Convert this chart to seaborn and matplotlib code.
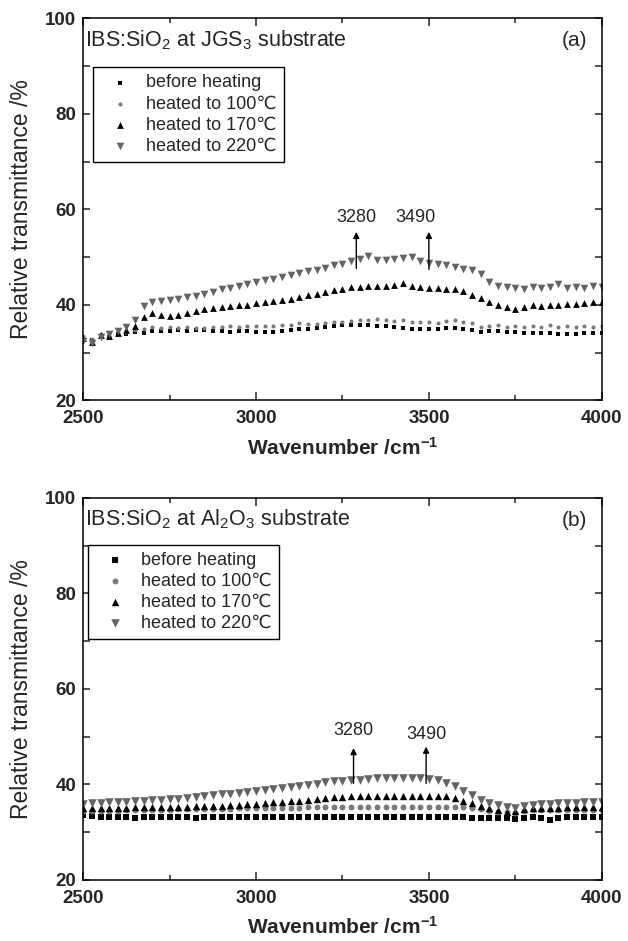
import matplotlib
matplotlib.use('Agg')
import matplotlib.pyplot as plt
import numpy as np
import seaborn as sns
from matplotlib.ticker import MultipleLocator

sns.set_style('ticks')
plt.rcParams['font.family'] = ['Liberation Sans', 'DejaVu Sans']
plt.rcParams['mathtext.fontset'] = 'custom'
plt.rcParams['mathtext.rm'] = 'Liberation Sans'
plt.rcParams['mathtext.it'] = 'Liberation Sans:italic'
plt.rcParams['mathtext.bf'] = 'Liberation Sans:bold'

# wavenumber grid (cm-1), values read every 25 cm-1
wavenumber = list(range(2500, 4001, 25))

labels = ['before heating', 'heated to 100\u2103', 'heated to 170\u2103', 'heated to 220\u2103']

# panel (a): IBS:SiO2 on JGS3
jgs_before = [33.0, 32.6, 33.4, 33.2, 33.8, 34.0, 34.3, 34.2, 34.5, 34.6, 34.5, 34.7, 34.6, 34.7, 34.7, 34.5,
              34.6, 34.4, 34.6, 34.5, 34.4, 34.4, 34.4, 34.5, 34.7, 34.9, 35.0, 35.2, 35.4, 35.6, 35.7, 35.8,
              35.8, 35.7, 35.6, 35.6, 35.4, 35.2, 35.0, 34.9, 34.9, 35.0, 35.1, 35.2, 35.0, 34.7, 34.4, 34.6,
              34.5, 34.3, 34.3, 34.2, 34.2, 34.1, 34.1, 34.0, 34.0, 34.0, 34.1, 34.2, 34.2]
jgs_100 = [33.4, 32.8, 33.8, 33.5, 34.2, 34.4, 34.8, 35.0, 35.3, 35.1, 35.4, 35.2, 35.3, 35.2, 35.2, 35.4,
           35.3, 35.5, 35.4, 35.6, 35.5, 35.6, 35.6, 35.8, 35.7, 36.2, 35.9, 36.0, 36.3, 36.4, 36.5, 36.6,
           36.8, 36.9, 37.0, 36.9, 36.7, 36.8, 36.5, 36.4, 36.5, 36.3, 36.6, 36.8, 36.5, 36.2, 35.4, 35.6,
           35.8, 35.4, 35.6, 35.3, 35.5, 35.4, 35.7, 35.4, 35.5, 35.3, 35.6, 35.4, 35.5]
jgs_170 = [33.0, 32.2, 33.6, 33.4, 34.2, 34.8, 35.6, 37.4, 38.2, 37.9, 37.6, 37.8, 38.4, 38.7, 39.2, 39.4,
           39.5, 39.7, 39.9, 40.0, 40.3, 40.5, 40.8, 41.0, 41.3, 41.6, 42.0, 42.3, 42.7, 43.1, 43.4, 43.7,
           43.8, 43.9, 44.0, 44.0, 44.2, 44.5, 44.0, 43.8, 43.6, 43.5, 43.4, 43.3, 43.0, 42.0, 41.5, 40.6,
           39.9, 39.5, 39.2, 39.6, 39.9, 39.8, 40.0, 39.9, 40.1, 40.2, 40.3, 40.5, 40.6]
jgs_220 = [32.4, 32.0, 33.2, 33.8, 34.6, 35.3, 36.8, 39.8, 40.6, 40.8, 41.0, 41.3, 41.6, 41.9, 42.2, 42.8,
           43.4, 43.6, 44.0, 44.4, 44.8, 45.2, 45.4, 45.8, 46.2, 46.6, 47.0, 47.4, 47.8, 48.3, 48.6, 49.2,
           49.6, 50.3, 49.5, 49.4, 49.6, 49.9, 50.1, 49.2, 48.8, 48.5, 48.3, 47.9, 47.6, 47.2, 46.4, 44.8,
           44.0, 43.8, 43.6, 43.4, 43.7, 43.5, 43.8, 44.4, 43.6, 43.8, 43.6, 43.9, 43.8]

# panel (b): IBS:SiO2 on Al2O3
al_before = [33.6, 33.4, 33.2, 33.1, 33.2, 33.2, 33.0, 33.2, 33.1, 33.2, 33.2, 33.1, 33.2, 33.0, 33.2, 33.1,
             33.2, 33.2, 33.1, 33.2, 33.2, 33.1, 33.2, 33.2, 33.1, 33.2, 33.2, 33.2, 33.1, 33.2, 33.2, 33.1,
             33.2, 33.2, 33.1, 33.2, 33.2, 33.2, 33.1, 33.2, 33.2, 33.1, 33.2, 33.2, 33.1, 33.0, 33.0, 32.9,
             33.0, 32.9, 32.8, 33.0, 33.1, 33.0, 32.6, 33.0, 33.1, 33.2, 33.1, 33.2, 33.2]
al_100 = [34.4, 34.4, 34.5, 34.5, 34.5, 34.6, 34.6, 34.6, 34.7, 34.7, 34.7, 34.8, 34.8, 34.8, 34.8, 34.9,
          34.9, 34.9, 35.0, 35.0, 35.0, 35.0, 35.1, 35.1, 35.1, 35.1, 35.2, 35.2, 35.2, 35.2, 35.3, 35.3,
          35.3, 35.3, 35.3, 35.3, 35.3, 35.3, 35.3, 35.3, 35.3, 35.3, 35.3, 35.3, 35.2, 35.0, 34.8, 34.5,
          34.3, 34.1, 34.0, 34.5, 34.7, 34.7, 34.6, 34.7, 34.7, 34.7, 34.7, 34.7, 34.7]
al_170 = [35.0, 35.0, 35.1, 35.1, 35.1, 35.1, 35.2, 35.2, 35.2, 35.2, 35.3, 35.3, 35.3, 35.4, 35.4, 35.5,
          35.5, 35.6, 35.7, 35.8, 35.9, 36.0, 36.2, 36.3, 36.5, 36.6, 36.8, 36.9, 37.1, 37.3, 37.4, 37.5,
          37.6, 37.6, 37.6, 37.6, 37.6, 37.6, 37.6, 37.6, 37.6, 37.6, 37.6, 37.2, 36.6, 36.0, 35.5, 35.0,
          34.6, 34.3, 34.5, 34.8, 35.0, 35.0, 35.1, 35.1, 35.2, 35.2, 35.2, 35.3, 35.3]
al_220 = [35.9, 36.0, 36.1, 36.2, 36.3, 36.4, 36.5, 36.6, 36.7, 36.8, 36.9, 37.0, 37.2, 37.3, 37.5, 37.7,
          37.9, 38.0, 38.2, 38.4, 38.6, 38.8, 39.0, 39.2, 39.5, 39.7, 39.9, 40.1, 40.4, 40.6, 40.8, 40.9,
          41.0, 41.1, 41.3, 41.3, 41.4, 41.4, 41.4, 41.4, 41.2, 40.9, 40.3, 39.6, 38.7, 37.7, 36.7, 36.1,
          35.6, 35.2, 35.1, 35.5, 35.7, 35.9, 35.8, 36.0, 36.0, 36.1, 36.2, 36.3, 36.4]

peaks = [3280, 3490]

fig = plt.figure(figsize=(6.28, 9.41), dpi=100)
ax_a = fig.add_axes([0.1326, 0.5745, 0.8255, 0.406])
ax_b = fig.add_axes([0.1326, 0.0650, 0.8255, 0.406])

styles_a = [('s', 'black', 10), ('.', '#7a7a7a', 34), ('^', 'black', 24), ('v', '#646464', 30)]
styles_b = [('s', 'black', 14), ('o', '#7a7a7a', 18), ('^', 'black', 28), ('v', '#646464', 38)]


def draw(ax, series, styles):
    for vals, lab, (mk, col, size) in zip(series, labels, styles):
        sns.scatterplot(x=wavenumber, y=vals, marker=mk, color=col, s=size,
                        linewidth=0, ax=ax, label=lab)


draw(ax_a, [jgs_before, jgs_100, jgs_170, jgs_220], styles_a)
draw(ax_b, [al_before, al_100, al_170, al_220], styles_b)

for ax, tag in [(ax_a, '(a)'), (ax_b, '(b)')]:
    ax.set_xlim(2500, 4000)
    ax.set_ylim(20, 100)
    ax.xaxis.set_major_locator(MultipleLocator(500))
    ax.xaxis.set_minor_locator(MultipleLocator(250))
    ax.yaxis.set_major_locator(MultipleLocator(20))
    ax.yaxis.set_minor_locator(MultipleLocator(10))
    ax.tick_params(which='both', direction='in', top=True, right=True, width=1.1, labelsize=13.5)
    ax.tick_params(axis='x', which='major', length=6, pad=7)
    ax.tick_params(axis='x', which='minor', length=3.5)
    ax.tick_params(axis='y', which='both', length=5, pad=5)
    for lbl in ax.get_xticklabels() + ax.get_yticklabels():
        lbl.set_fontweight('bold')
    for sp in ax.spines.values():
        sp.set_linewidth(1.1)
        sp.set_color('black')
    ax.set_xlabel(r'Wavenumber /cm$^{\mathbf{-1}}$', fontsize=15, fontweight='bold', labelpad=7)
    ax.set_ylabel('Relative transmittance /%', fontsize=16.5, labelpad=9)
    ax.text(0.948, 0.941, tag, transform=ax.transAxes, fontsize=15, ha='center', va='center')

ax_a.text(0.004, 0.943, r'IBS:SiO$_2$ at JGS$_3$ substrate', transform=ax_a.transAxes,
          fontsize=15.5, ha='left', va='center')
ax_b.text(0.004, 0.943, r'IBS:SiO$_2$ at Al$_2$O$_3$ substrate', transform=ax_b.transAxes,
          fontsize=15.5, ha='left', va='center')

# absorption arrows
arrow_kw = dict(arrowstyle='-|>', color='black', lw=1.0, mutation_scale=9, shrinkA=0, shrinkB=0)
for x, y0, y1, tx in zip(peaks, [47.6, 47.4], [55.3, 55.3], [3289, 3461]):
    ax_a.annotate('', xy=(x + 10, y1), xytext=(x + 10, y0), arrowprops=arrow_kw)
    ax_a.text(tx, 58.2, str(x), ha='center', va='center', fontsize=13)
for x, y0, y1, ty in zip(peaks, [40.2, 40.2], [47.6, 47.9], [51.2, 50.5]):
    ax_b.annotate('', xy=(x + 2, y1), xytext=(x + 2, y0), arrowprops=arrow_kw)
    ax_b.text(x + 2, ty, str(x), ha='center', va='center', fontsize=13)

leg_kw = dict(loc='upper left', fontsize=13, frameon=True, fancybox=False, edgecolor='black',
              framealpha=1, borderaxespad=0, borderpad=0.4, handlelength=2.2, handletextpad=0.35,
              labelspacing=0.22)
leg = ax_a.legend(bbox_to_anchor=(0.019, 0.872), **leg_kw)
leg.get_frame().set_linewidth(1.0)
leg = ax_b.legend(bbox_to_anchor=(0.009, 0.877), **leg_kw)
leg.get_frame().set_linewidth(1.0)

fig.savefig('out.png', dpi=100)
